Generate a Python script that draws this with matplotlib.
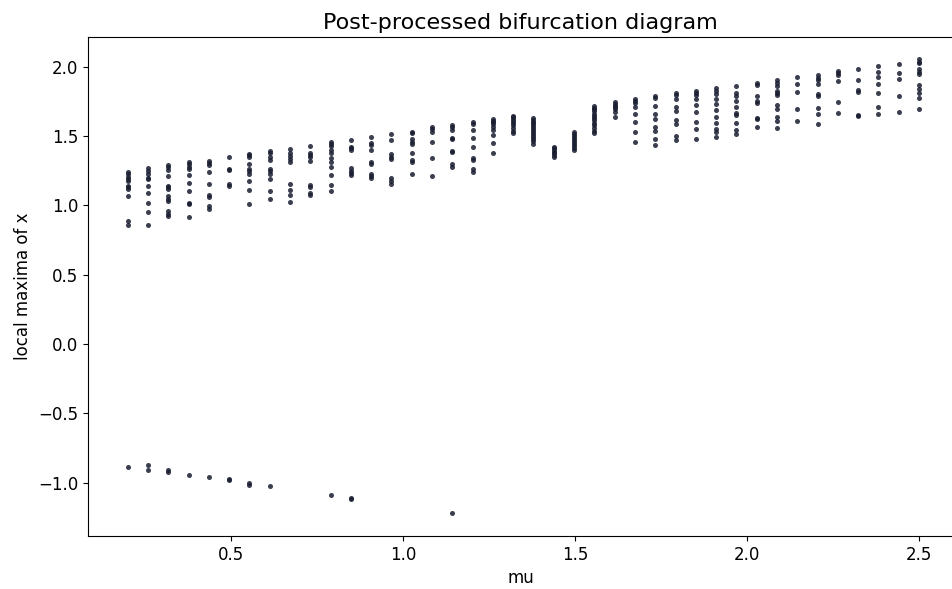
import numpy as np
import matplotlib.pyplot as plt

# mu grid of the sweep (40 values between 0.2 and 2.5)
mu = np.linspace(0.2, 2.5, 40)

# local maxima, one list per mu value
maxima = [
    [1.243, 1.227, 1.207, 1.188, 1.176, 1.142, 1.130, 1.118, 1.066, 0.890, 0.860, -0.885],
    [1.268, 1.251, 1.229, 1.196, 1.188, 1.140, 1.089, 1.015, 0.950, 0.859, -0.873, -0.909],
    [1.291, 1.279, 1.253, 1.212, 1.142, 1.130, 1.118, 1.068, 1.046, 1.032, 0.960, 0.940, 0.926, -0.909, -0.926],
    [1.311, 1.297, 1.279, 1.263, 1.222, 1.159, 1.102, 1.020, 1.008, 0.916, -0.945],
    [1.320, 1.308, 1.289, 1.241, 1.152, 1.075, 1.061, 0.996, 0.976, -0.957],
    [1.347, 1.263, 1.253, 1.154, 1.140, -0.972, -0.979],
    [1.373, 1.364, 1.351, 1.297, 1.263, 1.246, 1.227, 1.174, 1.111, 1.010, -1.003, -1.017],
    [1.392, 1.380, 1.347, 1.328, 1.263, 1.246, 1.227, 1.188, 1.102, 1.048, -1.027],
    [1.405, 1.376, 1.355, 1.336, 1.311, 1.154, 1.110, 1.075, 1.027],
    [1.430, 1.376, 1.364, 1.351, 1.320, 1.147, 1.135, 1.087, 1.073],
    [1.455, 1.443, 1.430, 1.400, 1.376, 1.340, 1.311, 1.279, 1.217, 1.147, 1.104, -1.092],
    [1.474, 1.424, 1.412, 1.400, 1.268, 1.251, 1.232, 1.217, -1.111, -1.121],
    [1.496, 1.448, 1.438, 1.400, 1.316, 1.299, 1.229, 1.212, 1.196],
    [1.515, 1.472, 1.369, 1.351, 1.333, 1.196, 1.178, 1.157],
    [1.532, 1.520, 1.477, 1.455, 1.443, 1.376, 1.328, 1.316, 1.224],
    [1.563, 1.549, 1.532, 1.455, 1.344, 1.212],
    [1.580, 1.568, 1.544, 1.484, 1.477, 1.395, 1.388, 1.297, 1.275, -1.222],
    [1.600, 1.587, 1.544, 1.488, 1.419, 1.344, 1.328, 1.260, 1.241],
    [1.621, 1.611, 1.600, 1.587, 1.568, 1.546, 1.505, 1.448, 1.376],
    [1.645, 1.636, 1.623, 1.611, 1.597, 1.580, 1.561, 1.539, 1.520],
    [1.628, 1.617, 1.605, 1.592, 1.578, 1.565, 1.551, 1.537, 1.522, 1.508, 1.493, 1.478, 1.462, 1.441],
    [1.424, 1.412, 1.400, 1.388, 1.375, 1.362, 1.351],
    [1.532, 1.517, 1.501, 1.486, 1.470, 1.455, 1.440, 1.425, 1.412, 1.400],
    [1.718, 1.705, 1.692, 1.678, 1.662, 1.646, 1.630, 1.613, 1.596, 1.578, 1.560, 1.540, 1.525],
    [1.744, 1.732, 1.719, 1.708, 1.693, 1.676, 1.636],
    [1.768, 1.755, 1.741, 1.712, 1.659, 1.600, 1.527, 1.455],
    [1.789, 1.777, 1.717, 1.657, 1.621, 1.568, 1.537, 1.477, 1.436],
    [1.809, 1.797, 1.765, 1.708, 1.683, 1.616, 1.587, 1.501, 1.472],
    [1.825, 1.813, 1.797, 1.765, 1.724, 1.676, 1.604, 1.551, 1.479],
    [1.845, 1.828, 1.804, 1.768, 1.732, 1.688, 1.636, 1.592, 1.549, 1.532, 1.496],
    [1.861, 1.809, 1.789, 1.755, 1.708, 1.669, 1.652, 1.597, 1.544, 1.513],
    [1.881, 1.869, 1.789, 1.755, 1.741, 1.633, 1.621, 1.568],
    [1.905, 1.881, 1.861, 1.825, 1.809, 1.797, 1.724, 1.693, 1.640, 1.609, 1.561],
    [1.924, 1.876, 1.816, 1.693, 1.609],
    [1.941, 1.921, 1.905, 1.876, 1.804, 1.789, 1.701, 1.659, 1.587],
    [1.970, 1.953, 1.941, 1.900, 1.748, 1.669],
    [1.984, 1.905, 1.833, 1.816, 1.652, 1.647],
    [2.008, 1.965, 1.929, 1.876, 1.809, 1.712, 1.659],
    [2.018, 1.953, 1.912, 1.789, 1.676],
    [2.054, 2.037, 2.025, 1.982, 1.965, 1.948, 1.869, 1.838, 1.809, 1.773, 1.693],
]

x = np.concatenate([[m]*len(v) for m, v in zip(mu, maxima)])
y = np.concatenate(maxima)

fig = plt.figure(figsize=(9.53, 5.89), dpi=100)
ax = fig.add_axes([0.0923, 0.0900, 0.9077, 0.8472])
ax.scatter(x, y, s=13, color='#181d30', alpha=0.85, linewidths=0)
ax.set_xlim(0.0843, 2.599)
ax.set_ylim(-1.385, 2.215)
ax.spines['right'].set_visible(False)
ax.set_title("Post-processed bifurcation diagram", fontsize=16)
ax.set_xlabel("mu", fontsize=12)
ax.set_ylabel("local maxima of x", fontsize=12)
ax.tick_params(labelsize=12)
fig.savefig("out.png", dpi=100)
